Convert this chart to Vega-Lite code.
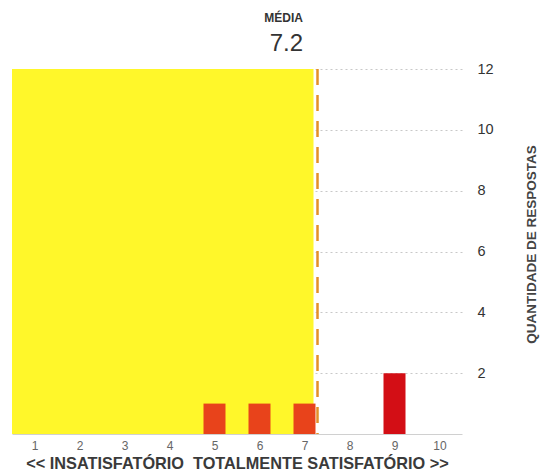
{
  "$schema": "https://vega.github.io/schema/vega-lite/v6.json",
  "autosize": "none",
  "width": 450,
  "height": 365,
  "padding": {"left": 12, "top": 69, "right": 80, "bottom": 41},
  "background": "white",
  "title": {
    "text": "MÉDIA",
    "subtitle": "7.2",
    "anchor": "end",
    "align": "right",
    "frame": "group",
    "dx": -159,
    "offset": 4,
    "font": "Liberation Sans",
    "fontSize": 12,
    "fontWeight": "bold",
    "color": "#333333",
    "subtitleFont": "Liberation Sans",
    "subtitleFontSize": 24,
    "subtitleColor": "#333333",
    "subtitlePadding": 7
  },
  "datasets": {
    "barras": [
      {"nota": 5, "respostas": 1},
      {"nota": 6, "respostas": 1},
      {"nota": 7, "respostas": 1},
      {"nota": 9, "respostas": 2}
    ],
    "media": [{"media": 7.2}]
  },
  "encoding": {
    "x": {
      "type": "quantitative",
      "scale": {"domain": [0.5, 10.5], "nice": false, "zero": false, "padding": 0},
      "axis": {
        "values": [1, 2, 3, 4, 5, 6, 7, 8, 9, 10],
        "title": "<< INSATISFATÓRIO\u00a0\u00a0TOTALMENTE SATISFATÓRIO >>",
        "titleFont": "Liberation Sans",
        "titleFontSize": 16.3,
        "titleFontWeight": "bold",
        "titleColor": "#3a3a3a",
        "titlePadding": 4,
        "labelFont": "Liberation Sans",
        "labelFontSize": 12,
        "labelColor": "#666666",
        "labelPadding": 6,
        "ticks": false,
        "grid": false,
        "domainColor": "#d0d0d0",
        "domainWidth": 1
      }
    },
    "y": {
      "type": "quantitative",
      "scale": {"domain": [0, 12], "nice": false},
      "axis": {
        "orient": "right",
        "values": [2, 4, 6, 8, 10, 12],
        "title": "QUANTIDADE DE RESPOSTAS",
        "titleFont": "Liberation Sans",
        "titleFontSize": 13.5,
        "titleFontWeight": "bold",
        "titleColor": "#444444",
        "titleAngle": 270,
        "titlePadding": 45,
        "titleY": 175,
        "labelFont": "Liberation Sans",
        "labelFontSize": 14.5,
        "labelColor": "#333333",
        "labelPadding": 15,
        "ticks": false,
        "domain": false,
        "grid": true,
        "gridColor": "#c8c8c8",
        "gridDash": [2, 3],
        "gridWidth": 1
      }
    }
  },
  "layer": [
    {
      "data": {"name": "media"},
      "mark": {"type": "rect", "color": "#fff72a"},
      "encoding": {
        "x": {"field": "media", "type": "quantitative"},
        "x2": {"datum": 0.5},
        "y": {"datum": 12, "type": "quantitative"},
        "y2": {"datum": 0}
      }
    },
    {
      "data": {"name": "barras"},
      "mark": {"type": "bar", "width": 22},
      "encoding": {
        "x": {"field": "nota", "type": "quantitative"},
        "y": {"field": "respostas", "type": "quantitative"},
        "color": {
          "condition": {"test": "datum.nota < 7.2", "value": "#e8431b"},
          "value": "#d30e15"
        }
      }
    },
    {
      "data": {"name": "media"},
      "mark": {"type": "rule", "color": "#e39028", "strokeWidth": 2.5, "strokeDash": [16, 10], "xOffset": 4},
      "encoding": {
        "x": {"field": "media", "type": "quantitative"},
        "y": {"datum": 12, "type": "quantitative"},
        "y2": {"datum": 0}
      }
    }
  ],
  "config": {
    "view": {"stroke": null}
  }
}
